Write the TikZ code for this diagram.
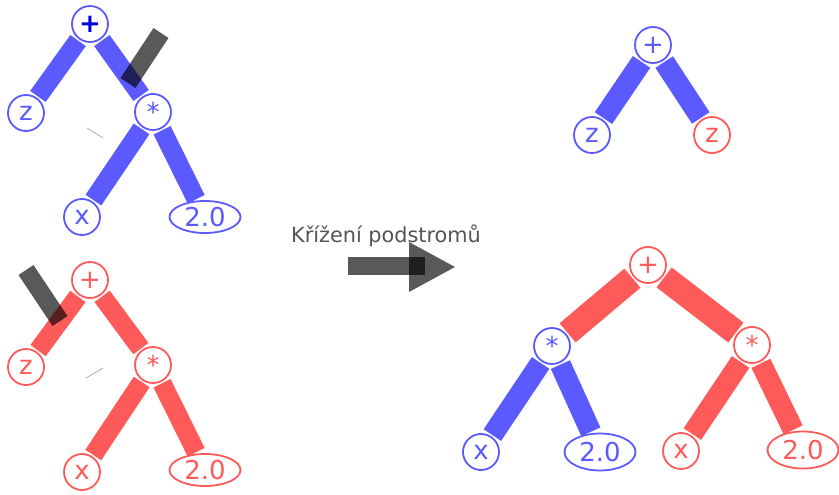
\documentclass[tikz,border=0pt]{standalone}
\usepackage{fontspec}
\newfontfamily\dejavu{DejaVu Sans}
\usetikzlibrary{shapes.geometric,backgrounds}
\definecolor{bcol}{RGB}{90,90,255}
\definecolor{rcol}{RGB}{255,90,90}
\definecolor{dblue}{RGB}{0,0,225}
\definecolor{txtgray}{RGB}{85,85,85}
\definecolor{thingray}{RGB}{175,175,175}
\tikzset{
  nd/.style={circle,line width=1.8pt,fill=white,minimum size=36pt,inner sep=0pt,
    font=\dejavu\fontsize{26}{26}\selectfont},
  el/.style={ellipse,line width=1.8pt,fill=white,minimum width=71pt,minimum height=32pt,inner sep=0pt,
    font=\dejavu\fontsize{26}{26}\selectfont},
  bn/.style={nd,draw=bcol,text=bcol},
  rn/.style={nd,draw=rcol,text=rcol},
  be/.style={el,draw=bcol,text=bcol},
  re/.style={el,draw=rcol,text=rcol},
  bedge/.style={line width=#1,draw=bcol,shorten <=1.5pt,shorten >=1.5pt},
  bedge/.default=19pt,
  redge/.style={line width=#1,draw=rcol,shorten <=1.5pt,shorten >=1.5pt},
  redge/.default=19pt,
  cutbar/.style={line width=18pt,draw=black,draw opacity=0.65},
  darkfill/.style={fill=black,fill opacity=0.65},
  thin line/.style={draw=thingray,line width=0.8pt}
}
\begin{document}
\begin{tikzpicture}[x=1pt,y=-1pt]
\useasboundingbox (0,0) rectangle (839,495);
% top-left tree (blue)
\node[bn,text=dblue,font=\dejavu\bfseries\fontsize{26}{26}\selectfont] (p1) at (90,24) {+};
\node[bn] (z1) at (26,113) {z};
\node[bn] (m1) at (153,112) {*};
\node[bn] (x1) at (82,217) {x};
\node[be] (c1) at (205,217) {2.0};
% bottom-left tree (red)
\node[rn] (p2) at (90,280) {+};
\node[rn] (z2) at (26,367) {z};
\node[rn] (m2) at (153,365) {*};
\node[rn] (x2) at (82,472) {x};
\node[re] (c2) at (205,470) {2.0};
% top-right tree
\node[bn] (p3) at (653,45) {+};
\node[bn] (z3) at (592,135) {z};
\node[rn] (z4) at (712,135) {z};
% bottom-right tree
\node[rn] (p4) at (648,265) {+};
\node[bn] (m3) at (552,346) {*};
\node[rn] (m4) at (752,345) {*};
\node[bn] (x3) at (481,452) {x};
\node[be,minimum height=37pt] (c3) at (600,452) {2.0};
\node[rn] (x4) at (681,451) {x};
\node[re,minimum height=37pt] (c4) at (803,450) {2.0};
\begin{pgfonlayer}{background}
\draw[bedge] (p1) -- (z1);
\draw[bedge] (p1) -- (m1);
\draw[bedge] (m1) -- (x1);
\draw[bedge] (m1) -- (c1);
\draw[redge] (p2) -- (z2);
\draw[redge] (p2) -- (m2);
\draw[redge] (m2) -- (x2);
\draw[redge] (m2) -- (c2);
\draw[bedge=21pt] (p3) -- (z3);
\draw[bedge=21pt] (p3) -- (z4);
\draw[redge=25pt] (p4) -- (m3);
\draw[redge=25pt] (p4) -- (m4);
\draw[bedge=21pt] (m3) -- (x3);
\draw[bedge=21pt] (m3) -- (c3);
\draw[redge=21pt] (m4) -- (x4);
\draw[redge=21pt] (m4) -- (c4);
\end{pgfonlayer}
% cut markers
\coordinate (ca1) at (161,33);
\coordinate (cb1) at (128,83);
\coordinate (ca2) at (26,270);
\coordinate (cb2) at (60,321);
\draw[cutbar] (ca1) -- (cb1);
\draw[cutbar] (ca2) -- (cb2);
\coordinate (ta1) at (87,128);
\coordinate (tb1) at (103,138);
\coordinate (ta2) at (86,378);
\coordinate (tb2) at (103,368);
\draw[thin line] (ta1) -- (tb1);
\draw[thin line] (ta2) -- (tb2);
% arrow
\node[anchor=base west,inner sep=0pt,text=txtgray,font=\dejavu\fontsize{20.8}{20.8}\selectfont] (lbl) at (291,242) {Křížení podstromů};
\path[darkfill] (348,257) rectangle (425,275);
\path[darkfill] (409,242) -- (409,292) -- (455,267) -- cycle;
\end{tikzpicture}
\end{document}
